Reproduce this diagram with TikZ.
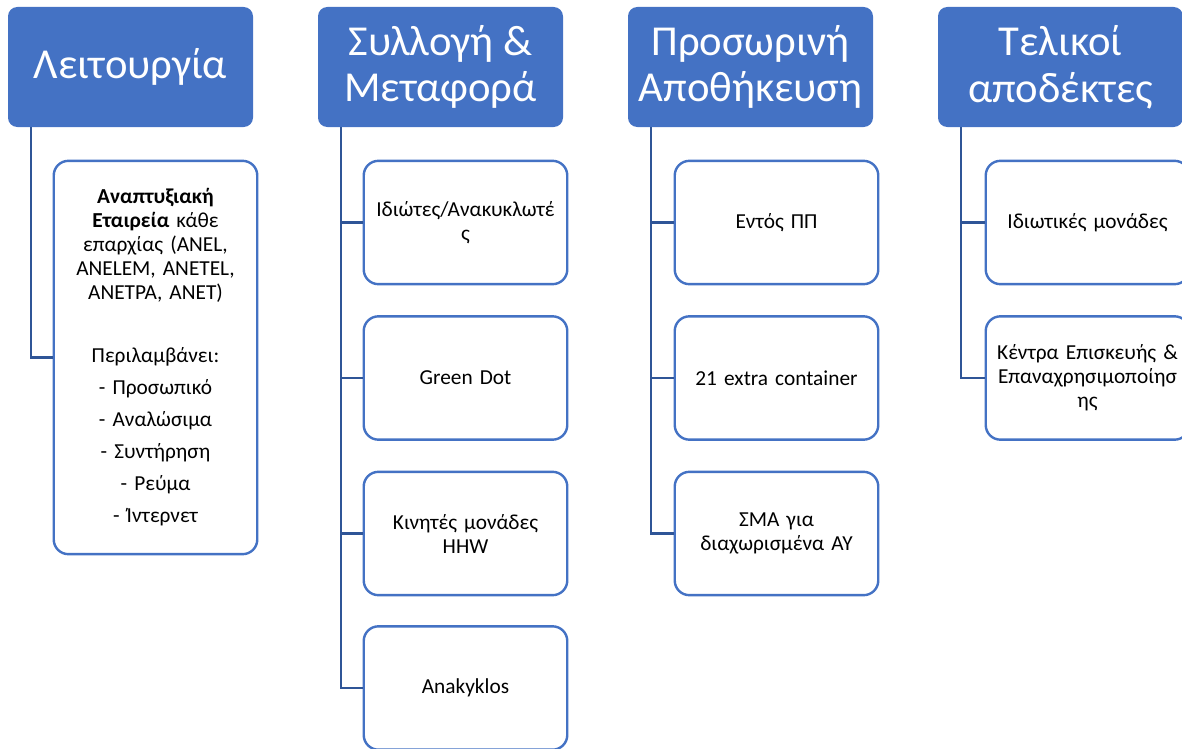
\documentclass[tikz,border=0pt]{standalone}
\usepackage{fontspec}
\setmainfont{Carlito}
\usepackage{tikz}
\usetikzlibrary{positioning}
\usepackage{xcolor}
\definecolor{hdrblue}{RGB}{68,114,196}
\definecolor{linkblue}{RGB}{47,85,151}

\tikzset{
  header/.style={fill=hdrblue, draw=none, rounded corners=7pt, text=white,
    minimum width=183.75pt, minimum height=90pt, align=center,
    font=\fontsize{32}{35}\selectfont},
  item/.style={draw=hdrblue, line width=1.8pt, fill=white, rounded corners=11pt,
    minimum width=148.5pt, minimum height=92.5pt, align=center, text width=146pt,
    font=\fontsize{16}{18}\selectfont},
  link/.style={draw=linkblue, line width=1.8pt}
}

\begin{document}
\begin{tikzpicture}[x=0.75pt, y=-0.75pt]
  \useasboundingbox (0,0) rectangle (1182,749);
  % column headers
  \node[header] (ops)   at (130.5,67) {Λειτουργία};
  \node[header] (coll)  at (440.5,67) {Συλλογή \&\\Μεταφορά};
  \node[header] (store) at (750.5,67) {Προσωρινή\\Αποθήκευση};
  \node[header] (final) at (1060.5,67) {Τελικοί\\αποδέκτες};

  % first column: one tall box
  \node[item, minimum height=295pt] (dev) at (155.5,357.5) {%
    \textbf{Αναπτυξιακή}\\
    \textbf{Εταιρεία} κάθε\\
    επαρχίας (ANEL,\\
    ANELEM, ANETEL,\\
    ANETPA, ANET)\\[29.25pt]
    Περιλαμβάνει:\\[6pt]
    - Προσωπικό\\[6pt]
    - Αναλώσιμα\\[6pt]
    - Συντήρηση\\[6pt]
    - Ρεύμα\\[6pt]
    - Ίντερνετ};

  % collection and transport
  \node[item] (priv)  at (465.5,222.5) {Ιδιώτες/Ανακυκλωτέ\\ς};
  \node[item] (green) at (465.5,378)   {Green Dot};
  \node[item] (hhw)   at (465.5,533.5) {Κινητές μονάδες\\HHW};
  \node[item] (anak)  at (465.5,688)   {Anakyklos};

  % temporary storage
  \node[item] (inpp)  at (776.5,222.5) {Εντός ΠΠ};
  \node[item] (extra) at (776.5,378)   {21 extra container};
  \node[item] (sma)   at (776.5,533.5) {ΣΜΑ για\\διαχωρισμένα ΑΥ};

  % final recipients
  \node[item] (units)  at (1087.5,222.5) {Ιδιωτικές μονάδες};
  \node[item] (repair) at (1087.5,378)   {Κέντρα Επισκευής \&\\Επαναχρησιμοποίησ\\ης};

  % tree lines
  \draw[link] ([xshift=17.25pt]ops.south west) |- (dev.west);
  \draw[link] ([xshift=17.25pt]coll.south west) |- (priv.west);
  \draw[link] ([xshift=17.25pt]coll.south west) |- (green.west);
  \draw[link] ([xshift=17.25pt]coll.south west) |- (hhw.west);
  \draw[link] ([xshift=17.25pt]coll.south west) |- (anak.west);
  \draw[link] ([xshift=17.25pt]store.south west) |- (inpp.west);
  \draw[link] ([xshift=17.25pt]store.south west) |- (extra.west);
  \draw[link] ([xshift=17.25pt]store.south west) |- (sma.west);
  \draw[link] ([xshift=17.25pt]final.south west) |- (units.west);
  \draw[link] ([xshift=17.25pt]final.south west) |- (repair.west);
\end{tikzpicture}
\end{document}
